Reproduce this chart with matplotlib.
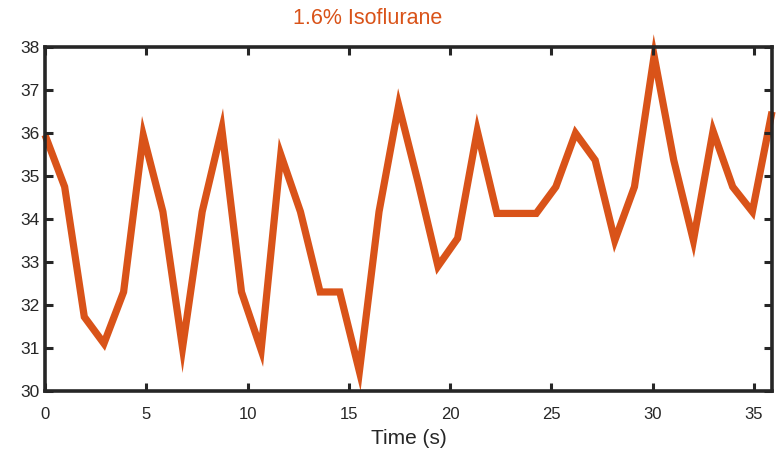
import matplotlib
matplotlib.use("Agg")
import matplotlib.pyplot as plt
import numpy as np

plt.rcParams['font.family'] = ['Liberation Sans', 'DejaVu Sans']

dt = 0.97
values = [35.96, 34.75, 31.72, 31.1, 32.3, 35.95, 34.17, 31.0, 34.17, 36.1,
          32.3, 30.95, 35.5, 34.17, 32.3, 32.3, 30.45, 34.17, 36.65, 34.83,
          32.9, 33.55, 36.05, 34.13, 34.13, 34.13, 34.75, 36.0, 35.37, 33.5,
          34.75, 37.8, 35.37, 33.5, 36.05, 34.75, 34.17, 36.5]
times = [i * dt for i in range(len(values))]
xticks = [0, 5, 10, 15, 20, 25, 30, 35]
yticks = [30, 31, 32, 33, 34, 35, 36, 37, 38]

color = '#D95319'
dark = '#262626'

fig = plt.figure(figsize=(7.79, 4.54), dpi=100)
ax = fig.add_axes([45/779, 1-390.7/454, (772-45)/779, (390.7-47.3)/454])
ax.plot(times, values, color=color, lw=5.2, solid_joinstyle='miter',
        solid_capstyle='butt', clip_on=False, zorder=1)
ax.set_xlim(0, times[-1])
ax.set_ylim(30, 38)
ax.set_xticks(xticks)
ax.set_yticks(yticks)
for s in ax.spines.values():
    s.set_linewidth(2.6)
    s.set_color(dark)
    s.set_zorder(3)
ax.tick_params(direction='in', length=6, width=2.2, color=dark,
               top=True, right=True, labelsize=12, labelcolor=dark)
ax.tick_params(axis='y', pad=4, labelsize=12.5)
ax.tick_params(axis='x', pad=11.5)
ax.set_xlabel('Time (s)', fontsize=15, color=dark, labelpad=5.5)
fig.text(368/779, 1-18/454, '1.6% Isoflurane', color=color, fontsize=15.5,
         ha='center', va='center')
fig.savefig('out.png', dpi=100)
